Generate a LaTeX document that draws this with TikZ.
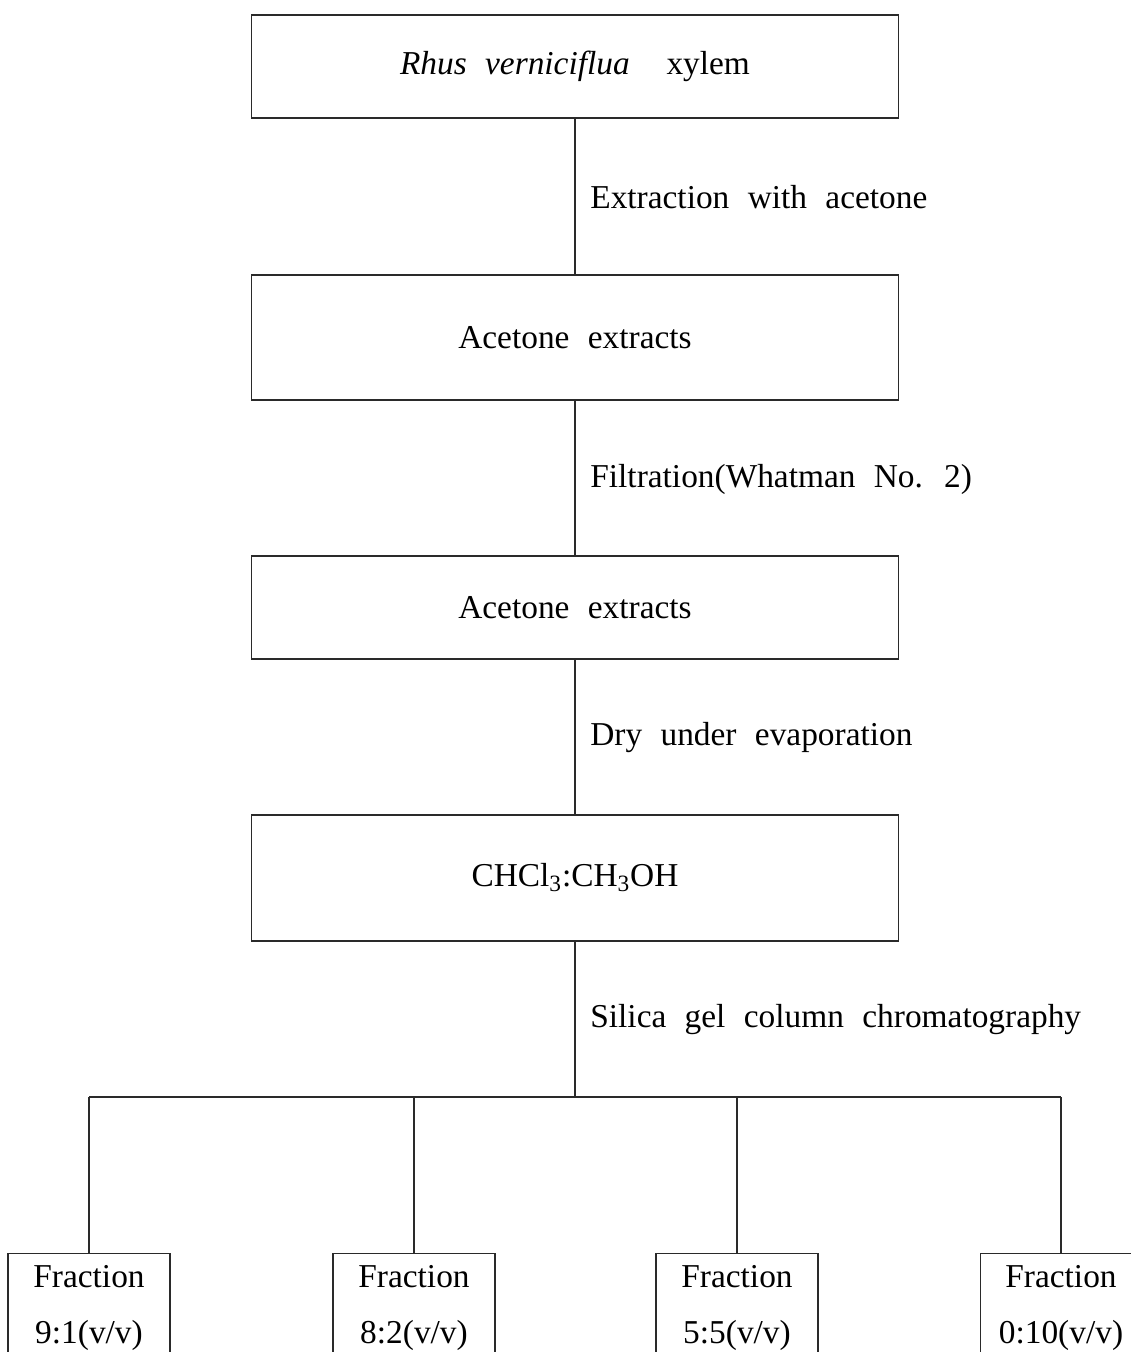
\documentclass[tikz,border=0pt]{standalone}
\usepackage{fontspec}
\setmainfont[WordSpace=2.2]{Liberation Serif}
\usetikzlibrary{positioning}

\begin{document}
\begin{tikzpicture}[x=0.02cm, y=-0.02cm,
    font=\fontsize{19}{31.9}\selectfont,
    stepBox/.style={draw=borderColour, line width=0.6pt, minimum width=12.96cm, inner sep=0pt},
    fracBox/.style={draw=borderColour, line width=0.6pt, minimum width=3.24cm, minimum height=2.2cm, align=center, inner sep=0pt},
    stepLabel/.style={anchor=west, inner sep=0pt},
    link/.style={draw=borderColour, line width=0.6pt}]

    \definecolor{borderColour}{HTML}{2A2A2A}

    % Define page size
    \useasboundingbox (0,0) rectangle (1131,1352);
    \clip (0,0) rectangle (1131,1352);

    % Draw the process boxes
    \node[stepBox, minimum height=2.06cm] (xylem) at (575,66.5) {\textit{Rhus verniciflua}\ \ xylem};
    \node[stepBox, minimum height=2.5cm] (acetoneA) at (575,337.5) {Acetone extracts};
    \node[stepBox, minimum height=2.06cm] (acetoneB) at (575,607.5) {Acetone extracts};
    \node[stepBox, minimum height=2.52cm] (solvent) at (575,878) {CHCl\textsubscript{3}:CH\textsubscript{3}OH};

    % Draw the links between the boxes
    \draw[link] (xylem) -- (acetoneA);
    \draw[link] (acetoneA) -- (acetoneB);
    \draw[link] (acetoneB) -- (solvent);

    % Label the steps
    \node[stepLabel] (extraction) at (590,197) {Extraction with acetone};
    \node[stepLabel] (filtration) at (590,479) {Filtration(Whatman No. 2)};
    \node[stepLabel] (drying) at (590,738) {Dry under evaporation};
    \node[stepLabel] (column) at (590,1020) {Silica gel column chromatography};

    % Define the split point
    \coordinate (split) at (575,1097);
    \draw[link] (solvent) -- (split);

    % Draw the fractions
    \foreach \x/\ratio [count=\i] in {89/9:1, 414/8:2, 737/5:5, 1061/0:10} {
        \coordinate (branch\i) at (\x,1097);
        \node[fracBox] (fraction\i) at (\x,1308) {Fraction\\\ratio(v/v)};
        \draw[link] (branch\i) -- (fraction\i.north);
    }
    \draw[link] (branch1) -- (branch4);

\end{tikzpicture}
\end{document}
